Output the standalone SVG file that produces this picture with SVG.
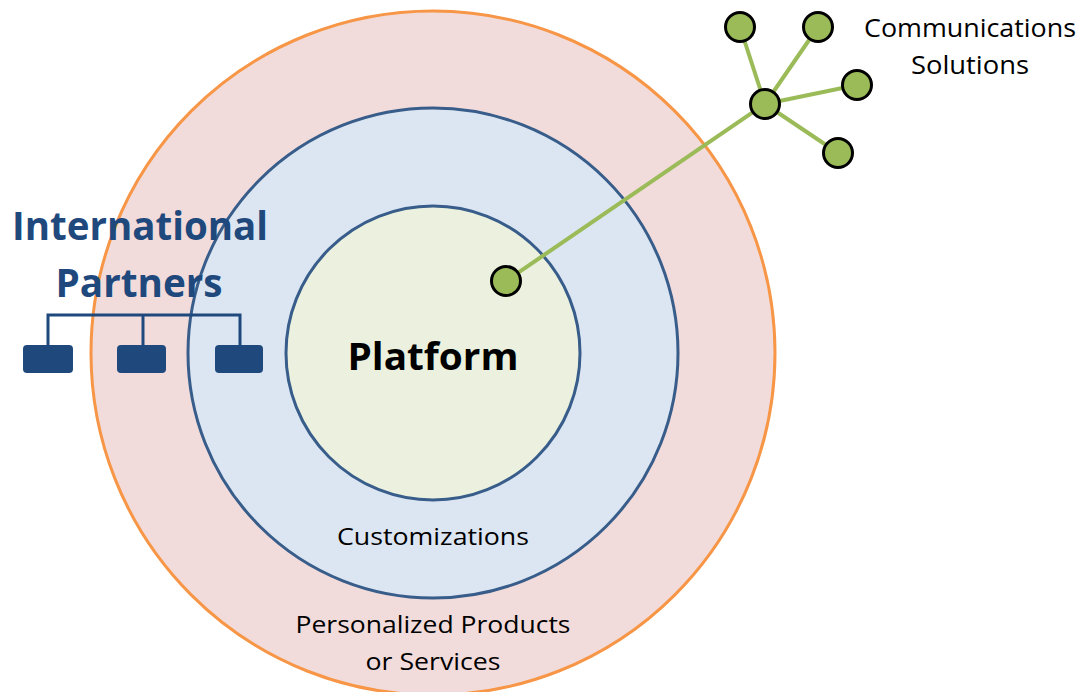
<svg xmlns="http://www.w3.org/2000/svg" width="1081" height="692" viewBox="0 0 1081 692">
<style>
.t{font-family:"Open Sans","Noto Sans",sans-serif;fill:#000}
.b{font-weight:bold}
.dot{fill:#9BBB59;stroke:#000;stroke-width:3}
.ln{stroke:#9BBB59;stroke-width:4;fill:none}
.box{fill:#1F497D}
</style>
<rect width="1081" height="692" fill="#fff"/>
<g id="outer"><circle cx="433" cy="353" r="342" fill="#F2DCDB" stroke="#F79646" stroke-width="3"/></g>
<g id="middle"><circle cx="433" cy="353" r="245" fill="#DCE6F2" stroke="#385D8A" stroke-width="3"/></g>
<g id="inner"><circle cx="433" cy="353" r="147" fill="#EBF1DE" stroke="#385D8A" stroke-width="3"/></g>
<g id="connectors">
<line class="ln" x1="506" y1="281" x2="765" y2="104"/>
<line class="ln" x1="765" y1="104" x2="740" y2="27"/>
<line class="ln" x1="765" y1="104" x2="818" y2="27"/>
<line class="ln" x1="765" y1="104" x2="857" y2="85"/>
<line class="ln" x1="765" y1="104" x2="838" y2="153"/>
<path d="M48 345V315H240V345M143 315V345" stroke="#1F497D" stroke-width="3" fill="none"/>
</g>
<g id="platform-node"><circle class="dot" cx="506" cy="281" r="14.5"/></g>
<g id="hub"><circle class="dot" cx="765" cy="104" r="14.5"/></g>
<g id="sat1"><circle class="dot" cx="740" cy="27" r="14.5"/></g>
<g id="sat2"><circle class="dot" cx="818" cy="27" r="14.5"/></g>
<g id="sat3"><circle class="dot" cx="857" cy="85" r="14.5"/></g>
<g id="sat4"><circle class="dot" cx="838" cy="153" r="14.5"/></g>
<g id="p1"><rect class="box" x="23" y="345" width="50" height="28" rx="4"/></g>
<g id="p2"><rect class="box" x="117" y="345" width="49" height="28" rx="4"/></g>
<g id="p3"><rect class="box" x="215" y="345" width="48" height="28" rx="4"/></g>
<g id="labels">
<text class="t" x="970" y="37" font-size="25" text-anchor="middle" textLength="212" lengthAdjust="spacingAndGlyphs">Communications</text>
<text class="t" x="970" y="74" font-size="25" text-anchor="middle" textLength="118" lengthAdjust="spacingAndGlyphs">Solutions</text>
<text class="t b" x="140" y="240" font-size="40" text-anchor="middle" fill="#1F497D" style="fill:#1F497D" textLength="256" lengthAdjust="spacingAndGlyphs">International</text>
<text class="t b" x="139" y="297" font-size="40" text-anchor="middle" style="fill:#1F497D" textLength="167" lengthAdjust="spacingAndGlyphs">Partners</text>
<text class="t b" x="433" y="370" font-size="38" text-anchor="middle" textLength="171" lengthAdjust="spacingAndGlyphs">Platform</text>
<text class="t" x="433" y="545" font-size="24" text-anchor="middle" textLength="192" lengthAdjust="spacingAndGlyphs">Customizations</text>
<text class="t" x="433" y="633" font-size="24" text-anchor="middle" textLength="275" lengthAdjust="spacingAndGlyphs">Personalized Products</text>
<text class="t" x="433" y="670" font-size="24" text-anchor="middle" textLength="135" lengthAdjust="spacingAndGlyphs">or Services</text>
</g>
</svg>
